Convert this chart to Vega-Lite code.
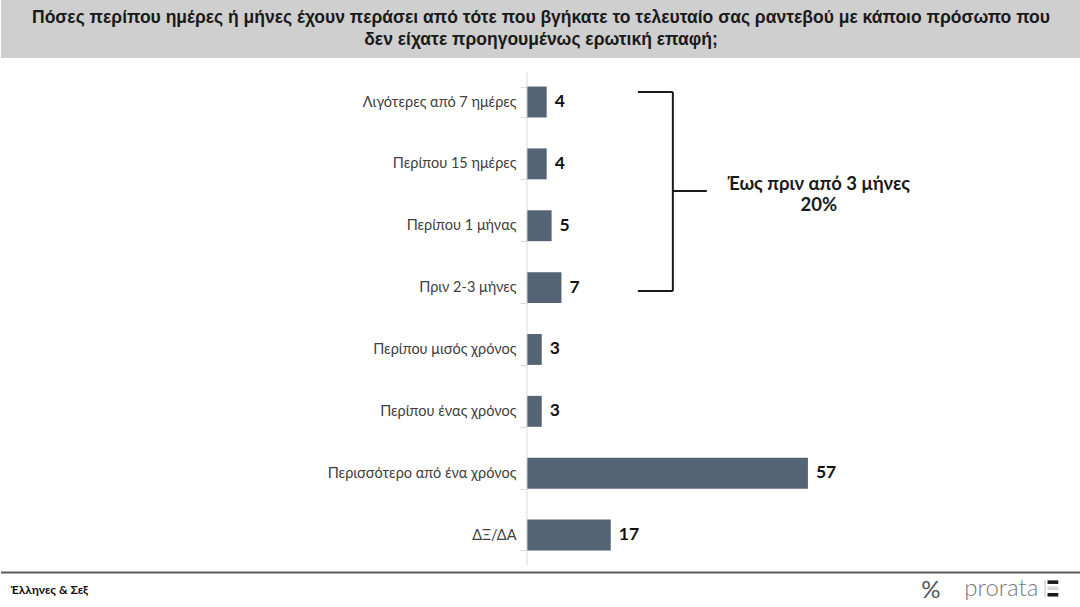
{
  "$schema": "https://vega.github.io/schema/vega-lite/v6.json",
  "padding": 0,
  "spacing": 0,
  "bounds": "flush",
  "background": "white",
  "config": {"view": {"stroke": null}, "font": "Lato"},
  "vconcat": [
    {
      "width": 1080,
      "height": 58,
      "view": {"fill": "#d0cfcf", "stroke": null},
      "data": {
        "values": [
          {"n": 1, "line": "Πόσες περίπου ημέρες  ή μήνες έχουν περάσει από τότε που βγήκατε το τελευταίο σας ραντεβού με κάποιο πρόσωπο που"},
          {"n": 2, "line": "δεν είχατε προηγουμένως  ερωτική  επαφή;"}
        ]
      },
      "mark": {
        "type": "text",
        "font": "Liberation Sans",
        "fontWeight": "bold",
        "fontSize": 17.5,
        "color": "#1a1a1a",
        "baseline": "middle",
        "limit": 1078
      },
      "encoding": {
        "y": {"field": "n", "type": "ordinal", "axis": null, "scale": {"padding": 0.85}},
        "text": {"field": "line"}
      }
    },
    {
      "width": 1080,
      "height": 513,
      "layer": [
        {
          "data": {
            "values": [
              {"label": "Λιγότερες από 7 ημέρες", "value": 4},
              {"label": "Περίπου 15 ημέρες", "value": 4},
              {"label": "Περίπου 1 μήνας", "value": 5},
              {"label": "Πριν 2-3 μήνες", "value": 7},
              {"label": "Περίπου μισός χρόνος", "value": 3},
              {"label": "Περίπου ένας χρόνος", "value": 3},
              {"label": "Περισσότερο από ένα χρόνος", "value": 57},
              {"label": "ΔΞ/ΔΑ", "value": 17}
            ]
          },
          "encoding": {
            "y": {
              "field": "label",
              "type": "nominal",
              "sort": null,
              "scale": {"paddingInner": 0.5, "paddingOuter": 0.3965, "align": 0.582},
              "axis": {
                "title": null,
                "offset": -526,
                "domain": false,
                "tickBand": "extent",
                "tickColor": "#d9d9d9",
                "tickSize": 7,
                "labelPadding": 4,
                "labelFont": "Lato",
                "labelFontSize": 14.5,
                "labelColor": "#404040",
                "labelLimit": 400
              }
            },
            "x": {
              "field": "value",
              "type": "quantitative",
              "scale": {"domain": [-106.7, 112.4], "nice": false, "zero": false},
              "axis": null
            }
          },
          "layer": [
            {"mark": {"type": "bar", "color": "#546375"}},
            {
              "mark": {"type": "text", "align": "left", "baseline": "middle", "dx": 8, "fontSize": 17.5, "fontWeight": "bold", "color": "#111111"},
              "encoding": {"text": {"field": "value"}}
            }
          ]
        },
        {
          "layer": [
            {
              "data": {
                "values": [
                  {"kind": "axis", "x": 0, "x2": 0, "y": -0.485, "y2": 7.485},
                  {"kind": "bracket", "x": 22.5, "x2": 29.6, "y": -0.16, "y2": -0.16},
                  {"kind": "bracket", "x": 29.6, "x2": 29.6, "y": -0.16, "y2": 3.055},
                  {"kind": "bracket", "x": 22.5, "x2": 29.6, "y": 3.055, "y2": 3.055},
                  {"kind": "bracket", "x": 29.6, "x2": 36.5, "y": 1.44, "y2": 1.44}
                ]
              },
              "mark": {"type": "rule"},
              "encoding": {
                "x": {"field": "x", "type": "quantitative", "scale": {"domain": [-106.7, 112.4], "nice": false, "zero": false}, "axis": null},
                "x2": {"field": "x2"},
                "y": {"field": "y", "type": "quantitative", "scale": {"domain": [-0.711, 7.582], "reverse": true, "nice": false, "zero": false}, "axis": null},
                "y2": {"field": "y2"},
                "color": {"field": "kind", "type": "nominal", "scale": {"domain": ["axis", "bracket"], "range": ["#d9d9d9", "#1a1a1a"]}, "legend": null},
                "strokeWidth": {"field": "kind", "type": "nominal", "scale": {"domain": ["axis", "bracket"], "range": [1, 2]}, "legend": null}
              }
            },
            {
              "data": {
                "values": [
                  {"t": "Έως πριν από 3 μήνες", "x": 59.2, "y": 1.33},
                  {"t": "20%", "x": 59.2, "y": 1.66}
                ]
              },
              "mark": {"type": "text", "align": "center", "baseline": "middle", "fontSize": 18.5, "fontWeight": "bold", "color": "#1a1a1a"},
              "encoding": {
                "x": {"field": "x", "type": "quantitative", "scale": {"domain": [-106.7, 112.4], "nice": false, "zero": false}, "axis": null},
                "y": {"field": "y", "type": "quantitative", "scale": {"domain": [-0.711, 7.582], "reverse": true, "nice": false, "zero": false}, "axis": null},
                "text": {"field": "t"}
              }
            }
          ]
        }
      ],
      "resolve": {"scale": {"y": "independent"}, "axis": {"y": "independent"}}
    },
    {
      "width": 1080,
      "height": 36,
      "layer": [
        {
          "data": {"values": [{"y": 0.04}]},
          "mark": {"type": "rule", "color": "#5a5a5a", "strokeWidth": 2},
          "encoding": {
            "y": {"field": "y", "type": "quantitative", "scale": {"domain": [0, 1], "reverse": true, "nice": false, "zero": false}, "axis": null}
          }
        },
        {
          "data": {
            "values": [
              {"t": "Έλληνες & Σεξ", "x": 0.9, "y": 0.53, "kind": "source"},
              {"t": "%", "x": 86.1, "y": 0.55, "kind": "pct"},
              {"t": "prorata", "x": 89.2, "y": 0.5, "kind": "logo"}
            ]
          },
          "layer": [
            {
              "transform": [{"filter": "datum.kind == 'source'"}],
              "mark": {"type": "text", "align": "left", "baseline": "middle", "fontSize": 12, "fontWeight": "bold", "color": "#111111"}
            },
            {
              "transform": [{"filter": "datum.kind == 'pct'"}],
              "mark": {"type": "text", "align": "center", "baseline": "middle", "fontSize": 24, "color": "#555555"}
            },
            {
              "transform": [{"filter": "datum.kind == 'logo'"}],
              "mark": {"type": "text", "align": "left", "baseline": "middle", "fontSize": 24, "fontWeight": 300, "color": "#7a7a7a"}
            }
          ],
          "encoding": {
            "x": {"field": "x", "type": "quantitative", "scale": {"domain": [0, 100], "nice": false, "zero": false}, "axis": null},
            "y": {"field": "y", "type": "quantitative", "scale": {"domain": [0, 1], "reverse": true, "nice": false, "zero": false}, "axis": null},
            "text": {"field": "t"}
          }
        },
        {
          "data": {
            "values": [
              {"x": 96.6, "x2": 96.75, "y": 0.25, "y2": 0.72, "c": "bar"},
              {"x": 96.9, "x2": 97.9, "y": 0.26, "y2": 0.36, "c": "pink"},
              {"x": 96.9, "x2": 97.9, "y": 0.43, "y2": 0.53, "c": "green"},
              {"x": 96.9, "x2": 97.9, "y": 0.61, "y2": 0.71, "c": "blue"}
            ]
          },
          "mark": {"type": "rect"},
          "encoding": {
            "x": {"field": "x", "type": "quantitative", "scale": {"domain": [0, 100], "nice": false, "zero": false}, "axis": null},
            "x2": {"field": "x2"},
            "y": {"field": "y", "type": "quantitative", "scale": {"domain": [0, 1], "reverse": true, "nice": false, "zero": false}, "axis": null},
            "y2": {"field": "y2"},
            "color": {"field": "c", "type": "nominal", "scale": {"domain": ["bar", "pink", "green", "blue"], "range": ["#7a7a7a", "#e8a6d6", "#8cc9a3", "#5aa0d6"]}, "legend": null}
          }
        }
      ]
    }
  ]
}
